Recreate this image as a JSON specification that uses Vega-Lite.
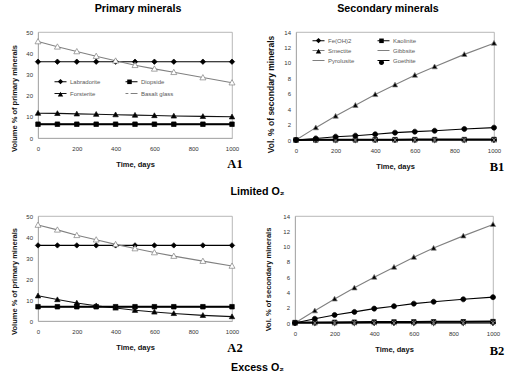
{
  "$schema": "https://vega.github.io/schema/vega-lite/v6.json",
  "background": "white",
  "padding": {"left": 10, "top": 2, "right": 0, "bottom": 0},
  "config": {
    "view": {"stroke": "#a6a6a6", "strokeWidth": 0.8},
    "axis": {
      "grid": false, "ticks": false, "tickCount": 20, "format": "d", "labelOverlap": false, "labelFlush": false,
      "domainColor": "#a6a6a6", "domainWidth": 0.8,
      "labelFont": "Liberation Sans", "labelFontSize": 6, "labelColor": "#333333",
      "titleFont": "Liberation Sans", "titleFontWeight": "bold", "titleFontSize": 7.5, "titleColor": "#111111"
    },
    "axisX": {"labelPadding": 7, "titlePadding": 9},
    "axisY": {"labelPadding": 5.5},
    "legend": {
      "title": null, "columns": 2, "direction": "horizontal",
      "labelFont": "Liberation Sans", "labelFontSize": 6, "labelColor": "#595959"
    },
    "title": {"font": "Liberation Sans", "fontWeight": "bold", "fontSize": 10.7, "color": "#000000"}
  },
  "datasets": {
    "a1": [
      {"t": 0, "Labradorite": 36, "Diopside": 6.5, "Forsterite": 11.7, "Basalt glass": 45.5},
      {"t": 100, "Labradorite": 36, "Diopside": 6.5, "Forsterite": 11.6, "Basalt glass": 43.0},
      {"t": 200, "Labradorite": 36, "Diopside": 6.5, "Forsterite": 11.4, "Basalt glass": 40.8},
      {"t": 300, "Labradorite": 36, "Diopside": 6.5, "Forsterite": 11.2, "Basalt glass": 38.6},
      {"t": 400, "Labradorite": 36, "Diopside": 6.5, "Forsterite": 11.0, "Basalt glass": 36.4},
      {"t": 500, "Labradorite": 36, "Diopside": 6.5, "Forsterite": 10.8, "Basalt glass": 34.3},
      {"t": 600, "Labradorite": 36, "Diopside": 6.5, "Forsterite": 10.6, "Basalt glass": 32.6},
      {"t": 700, "Labradorite": 36, "Diopside": 6.5, "Forsterite": 10.4, "Basalt glass": 31.0},
      {"t": 850, "Labradorite": 36, "Diopside": 6.5, "Forsterite": 10.2, "Basalt glass": 28.5},
      {"t": 1000, "Labradorite": 36, "Diopside": 6.5, "Forsterite": 10.0, "Basalt glass": 26.1}
    ],
    "a2": [
      {"t": 0, "Labradorite": 36, "Diopside": 6.8, "Forsterite": 12.0, "Basalt glass": 45.7},
      {"t": 100, "Labradorite": 36, "Diopside": 6.8, "Forsterite": 10.2, "Basalt glass": 43.4},
      {"t": 200, "Labradorite": 36, "Diopside": 6.8, "Forsterite": 8.6, "Basalt glass": 40.8},
      {"t": 300, "Labradorite": 36, "Diopside": 6.8, "Forsterite": 7.3, "Basalt glass": 38.7},
      {"t": 400, "Labradorite": 36, "Diopside": 6.8, "Forsterite": 6.2, "Basalt glass": 36.5},
      {"t": 500, "Labradorite": 36, "Diopside": 6.8, "Forsterite": 5.1, "Basalt glass": 34.5},
      {"t": 600, "Labradorite": 36, "Diopside": 6.8, "Forsterite": 4.3, "Basalt glass": 32.6},
      {"t": 700, "Labradorite": 36, "Diopside": 6.8, "Forsterite": 3.6, "Basalt glass": 30.9},
      {"t": 850, "Labradorite": 36, "Diopside": 6.8, "Forsterite": 2.7, "Basalt glass": 28.5},
      {"t": 1000, "Labradorite": 36, "Diopside": 6.8, "Forsterite": 2.1, "Basalt glass": 26.2}
    ],
    "b1": [
      {"t": 0, "Fe(OH)2": 0, "Kaolinite": 0, "Smectite": 0, "Gibbsite": 0, "Pyrolusite": 0, "Goethite": 0},
      {"t": 100, "Fe(OH)2": 0, "Kaolinite": 0.02, "Smectite": 1.6, "Gibbsite": 0, "Pyrolusite": 0, "Goethite": 0.2},
      {"t": 200, "Fe(OH)2": 0, "Kaolinite": 0.03, "Smectite": 3.1, "Gibbsite": 0, "Pyrolusite": 0, "Goethite": 0.43},
      {"t": 300, "Fe(OH)2": 0, "Kaolinite": 0.03, "Smectite": 4.5, "Gibbsite": 0, "Pyrolusite": 0, "Goethite": 0.56},
      {"t": 400, "Fe(OH)2": 0, "Kaolinite": 0.04, "Smectite": 5.9, "Gibbsite": 0, "Pyrolusite": 0, "Goethite": 0.74},
      {"t": 500, "Fe(OH)2": 0, "Kaolinite": 0.04, "Smectite": 7.15, "Gibbsite": 0, "Pyrolusite": 0, "Goethite": 0.95},
      {"t": 600, "Fe(OH)2": 0, "Kaolinite": 0.05, "Smectite": 8.4, "Gibbsite": 0, "Pyrolusite": 0, "Goethite": 1.08},
      {"t": 700, "Fe(OH)2": 0, "Kaolinite": 0.05, "Smectite": 9.5, "Gibbsite": 0, "Pyrolusite": 0, "Goethite": 1.2},
      {"t": 850, "Fe(OH)2": 0, "Kaolinite": 0.05, "Smectite": 11.1, "Gibbsite": 0, "Pyrolusite": 0, "Goethite": 1.43},
      {"t": 1000, "Fe(OH)2": 0, "Kaolinite": 0.06, "Smectite": 12.55, "Gibbsite": 0, "Pyrolusite": 0, "Goethite": 1.6}
    ],
    "b2": [
      {"t": 0, "Fe(OH)2": 0, "Kaolinite": 0.05, "Smectite": 0, "Gibbsite": 0, "Pyrolusite": 0, "Goethite": 0},
      {"t": 100, "Fe(OH)2": 0, "Kaolinite": 0.06, "Smectite": 1.6, "Gibbsite": 0, "Pyrolusite": 0.01, "Goethite": 0.55},
      {"t": 200, "Fe(OH)2": 0, "Kaolinite": 0.08, "Smectite": 3.15, "Gibbsite": 0, "Pyrolusite": 0.01, "Goethite": 1.05},
      {"t": 300, "Fe(OH)2": 0, "Kaolinite": 0.1, "Smectite": 4.6, "Gibbsite": 0, "Pyrolusite": 0.02, "Goethite": 1.45},
      {"t": 400, "Fe(OH)2": 0, "Kaolinite": 0.12, "Smectite": 6.0, "Gibbsite": 0, "Pyrolusite": 0.02, "Goethite": 1.88},
      {"t": 500, "Fe(OH)2": 0, "Kaolinite": 0.13, "Smectite": 7.3, "Gibbsite": 0, "Pyrolusite": 0.02, "Goethite": 2.2},
      {"t": 600, "Fe(OH)2": 0, "Kaolinite": 0.14, "Smectite": 8.6, "Gibbsite": 0, "Pyrolusite": 0.03, "Goethite": 2.53},
      {"t": 700, "Fe(OH)2": 0, "Kaolinite": 0.15, "Smectite": 9.8, "Gibbsite": 0, "Pyrolusite": 0.03, "Goethite": 2.78},
      {"t": 850, "Fe(OH)2": 0, "Kaolinite": 0.16, "Smectite": 11.4, "Gibbsite": 0, "Pyrolusite": 0.03, "Goethite": 3.1},
      {"t": 1000, "Fe(OH)2": 0, "Kaolinite": 0.18, "Smectite": 12.9, "Gibbsite": 0, "Pyrolusite": 0.03, "Goethite": 3.38}
    ]
  },
  "resolve": {
    "scale": {"x": "independent", "y": "independent", "shape": "independent", "fill": "independent", "stroke": "independent"},
    "legend": {"shape": "independent", "fill": "independent", "stroke": "independent"}
  },
  "spacing": 15,
  "vconcat": [
    {
      "title": {"text": "Limited O₂", "orient": "bottom", "offset": 13, "anchor": "middle"},
      "spacing": 22,
      "resolve": {
        "scale": {"x": "independent", "y": "independent", "shape": "independent", "fill": "independent", "stroke": "independent"},
        "legend": {"shape": "independent", "fill": "independent", "stroke": "independent"}
      },
      "hconcat": [
        {
          "width": 194, "height": 106,
          "title": {"text": "Primary minerals", "offset": 14, "dx": 3},
          "data": {"name": "a1"},
          "layer": [
            {
              "transform": [{"fold": ["Labradorite", "Diopside", "Forsterite", "Basalt glass"], "as": ["mineral", "v"]}],
              "mark": {"type": "line", "strokeWidth": 1.1},
              "encoding": {
                "x": {"field": "t", "type": "quantitative", "scale": {"domain": [0, 1000]}, "axis": {"values": [0, 200, 400, 600, 800, 1000], "title": "Time, days"}},
                "y": {"field": "v", "type": "quantitative", "scale": {"domain": [0, 50]}, "axis": {"values": [0, 10, 20, 30, 40, 50], "title": "Volume % of primary minerals", "titleY": 66, "titlePadding": 7}},
                "stroke": {"field": "mineral", "type": "nominal", "sort": ["Labradorite", "Diopside", "Forsterite", "Basalt glass"], "scale": {"range": ["#000000", "#000000", "#111111", "#808080"]},
                  "legend": {"orient": "none", "legendX": 16, "legendY": 43, "symbolType": "stroke", "symbolSize": 144, "symbolStrokeWidth": 1, "symbolOffset": 0, "labelOffset": 3, "columnPadding": 22, "rowPadding": 2}}
              }
            },
            {
              "transform": [{"fold": ["Diopside"], "as": ["mineral", "v"]}],
              "mark": {"type": "line", "strokeWidth": 2, "color": "#000000"},
              "encoding": {"x": {"field": "t", "type": "quantitative"}, "y": {"field": "v", "type": "quantitative"}}
            },
            {
              "transform": [{"fold": ["Labradorite", "Diopside", "Forsterite", "Basalt glass"], "as": ["mineral", "v"]}],
              "mark": {"type": "point", "filled": true, "size": 144, "opacity": 1, "strokeWidth": 0.7},
              "encoding": {
                "x": {"field": "t", "type": "quantitative"},
                "y": {"field": "v", "type": "quantitative"},
                "shape": {"field": "mineral", "type": "nominal",
                  "scale": {"domain": ["Labradorite", "Diopside", "Forsterite", "Basalt glass"], "range": ["M0,-0.45L0.45,0L0,0.45L-0.45,0Z", "M-0.38,-0.38L0.38,-0.38L0.38,0.38L-0.38,0.38Z", "M0,-0.45L0.45,0.35L-0.45,0.35Z", "M0,-0.5L0.5,0.38L-0.5,0.38Z"]},
                  "legend": {"orient": "none", "legendX": 16, "legendY": 43, "symbolSize": 144, "symbolStrokeWidth": 0.8, "symbolStrokeColor": "#444444", "symbolOffset": 0, "labelOffset": 3, "columnPadding": 22, "rowPadding": 2, "labelOpacity": 0}},
                "fill": {"field": "mineral", "type": "nominal",
                  "scale": {"domain": ["Labradorite", "Diopside", "Forsterite", "Basalt glass"], "range": ["#000000", "#000000", "#000000", "#ffffff"]},
                  "legend": {"orient": "none", "legendX": 16, "legendY": 43, "symbolSize": 144, "symbolStrokeWidth": 0.8, "symbolStrokeColor": "#444444", "symbolOffset": 0, "labelOffset": 3, "columnPadding": 22, "rowPadding": 2, "labelOpacity": 0}},
                "stroke": {"field": "mineral", "type": "nominal", "sort": ["Labradorite", "Diopside", "Forsterite", "Basalt glass"],
                  "legend": {"orient": "none", "legendX": 16, "legendY": 43, "symbolType": "stroke", "symbolSize": 144, "symbolStrokeWidth": 1, "symbolOffset": 0, "labelOffset": 3, "columnPadding": 22, "rowPadding": 2}}
              }
            },
            {
              "data": {"values": [{"panel": "A1"}]},
              "mark": {"type": "text", "font": "Liberation Serif", "fontWeight": "bold", "fontSize": 12.5, "align": "center", "baseline": "middle", "dx": 3, "dy": 26},
              "encoding": {"x": {"datum": 1000}, "y": {"datum": 0}, "text": {"field": "panel"}}
            }
          ]
        },
        {
          "width": 198, "height": 108,
          "title": {"text": "Secondary minerals", "offset": 14, "dx": -7},
          "data": {"name": "b1"},
          "layer": [
            {
              "transform": [{"fold": ["Fe(OH)2", "Kaolinite", "Smectite", "Gibbsite", "Pyrolusite", "Goethite"], "as": ["mineral", "v"]}],
              "mark": {"type": "line", "strokeWidth": 1.1},
              "encoding": {
                "x": {"field": "t", "type": "quantitative", "scale": {"domain": [0, 1000]}, "axis": {"values": [0, 200, 400, 600, 800, 1000], "title": "Time, days"}},
                "y": {"field": "v", "type": "quantitative", "scale": {"domain": [0, 14]}, "axis": {"values": [0, 2, 4, 6, 8, 10, 12, 14], "title": "Vol. % of secondary minerals", "titleY": 62, "titleFontSize": 8.5, "titlePadding": 8}},
                "stroke": {"field": "mineral", "type": "nominal", "sort": ["Fe(OH)2", "Kaolinite", "Smectite", "Gibbsite", "Pyrolusite", "Goethite"], "scale": {"range": ["#000000", "#000000", "#808080", "#808080", "#808080", "#000000"]},
                  "legend": {"orient": "none", "legendX": 16, "legendY": 2, "symbolType": "stroke", "symbolSize": 144, "symbolStrokeWidth": 1, "symbolOffset": 0, "labelOffset": 3, "columnPadding": 20, "rowPadding": 0}}
              }
            },
            {
              "transform": [{"fold": ["Kaolinite"], "as": ["mineral", "v"]}],
              "mark": {"type": "line", "strokeWidth": 2, "color": "#000000"},
              "encoding": {"x": {"field": "t", "type": "quantitative"}, "y": {"field": "v", "type": "quantitative"}}
            },
            {
              "transform": [{"fold": ["Fe(OH)2", "Kaolinite", "Smectite", "Gibbsite", "Pyrolusite", "Goethite"], "as": ["mineral", "v"]}],
              "mark": {"type": "point", "filled": true, "size": 144, "opacity": 1, "strokeWidth": 0.7},
              "encoding": {
                "x": {"field": "t", "type": "quantitative"},
                "y": {"field": "v", "type": "quantitative"},
                "shape": {"field": "mineral", "type": "nominal",
                  "scale": {"domain": ["Fe(OH)2", "Kaolinite", "Smectite", "Gibbsite", "Pyrolusite", "Goethite"], "range": ["M0,-0.45L0.45,0L0,0.45L-0.45,0Z", "M-0.38,-0.38L0.38,-0.38L0.38,0.38L-0.38,0.38Z", "M0,-0.45L0.45,0.35L-0.45,0.35Z", "M-0.38,-0.38L0.38,0.38M-0.38,0.38L0.38,-0.38", "M-0.38,-0.38L0.38,0.38M-0.38,0.38L0.38,-0.38M0,-0.45L0,0.45", "M-0.42,0A0.42,0.42,0,1,1,0.42,0A0.42,0.42,0,1,1,-0.42,0Z"]},
                  "legend": {"orient": "none", "legendX": 16, "legendY": 2, "symbolSize": 144, "symbolStrokeWidth": 0.8, "symbolStrokeColor": "#444444", "symbolOffset": 0, "labelOffset": 3, "columnPadding": 20, "rowPadding": 0, "labelOpacity": 0}},
                "fill": {"field": "mineral", "type": "nominal",
                  "scale": {"domain": ["Fe(OH)2", "Kaolinite", "Smectite", "Gibbsite", "Pyrolusite", "Goethite"], "range": ["#000000", "#000000", "#000000", "#000000", "#000000", "#000000"]},
                  "legend": {"orient": "none", "legendX": 16, "legendY": 2, "symbolSize": 144, "symbolStrokeWidth": 0.8, "symbolStrokeColor": "#444444", "symbolOffset": 0, "labelOffset": 3, "columnPadding": 20, "rowPadding": 0, "labelOpacity": 0}},
                "stroke": {"field": "mineral", "type": "nominal", "sort": ["Fe(OH)2", "Kaolinite", "Smectite", "Gibbsite", "Pyrolusite", "Goethite"],
                  "legend": {"orient": "none", "legendX": 16, "legendY": 2, "symbolType": "stroke", "symbolSize": 144, "symbolStrokeWidth": 1, "symbolOffset": 0, "labelOffset": 3, "columnPadding": 20, "rowPadding": 0}}
              }
            },
            {
              "data": {"values": [{"panel": "B1"}]},
              "mark": {"type": "text", "font": "Liberation Serif", "fontWeight": "bold", "fontSize": 12.5, "align": "center", "baseline": "middle", "dx": 3, "dy": 27},
              "encoding": {"x": {"datum": 1000}, "y": {"datum": 0}, "text": {"field": "panel"}}
            }
          ]
        }
      ]
    },
    {
      "title": {"text": "Excess O₂", "orient": "bottom", "offset": 5, "anchor": "middle"},
      "spacing": 20,
      "resolve": {
        "scale": {"x": "independent", "y": "independent", "shape": "independent", "fill": "independent", "stroke": "independent"},
        "legend": {"shape": "independent", "fill": "independent", "stroke": "independent"}
      },
      "hconcat": [
        {
          "width": 194, "height": 105,
          "data": {"name": "a2"},
          "layer": [
            {
              "transform": [{"fold": ["Labradorite", "Diopside", "Forsterite", "Basalt glass"], "as": ["mineral", "v"]}],
              "mark": {"type": "line", "strokeWidth": 1.1},
              "encoding": {
                "x": {"field": "t", "type": "quantitative", "scale": {"domain": [0, 1000]}, "axis": {"values": [0, 200, 400, 600, 800, 1000], "title": "Time, days"}},
                "y": {"field": "v", "type": "quantitative", "scale": {"domain": [0, 50]}, "axis": {"values": [0, 10, 20, 30, 40, 50], "title": "Volume % of primary minerals", "titleY": 65, "titlePadding": 7}},
                "stroke": {"field": "mineral", "type": "nominal", "scale": {"domain": ["Labradorite", "Diopside", "Forsterite", "Basalt glass"], "range": ["#000000", "#000000", "#111111", "#808080"]}, "legend": null}
              }
            },
            {
              "transform": [{"fold": ["Diopside"], "as": ["mineral", "v"]}],
              "mark": {"type": "line", "strokeWidth": 2, "color": "#000000"},
              "encoding": {"x": {"field": "t", "type": "quantitative"}, "y": {"field": "v", "type": "quantitative"}}
            },
            {
              "transform": [{"fold": ["Labradorite", "Diopside", "Forsterite", "Basalt glass"], "as": ["mineral", "v"]}],
              "mark": {"type": "point", "filled": true, "size": 144, "opacity": 1, "strokeWidth": 0.7},
              "encoding": {
                "x": {"field": "t", "type": "quantitative"},
                "y": {"field": "v", "type": "quantitative"},
                "shape": {"field": "mineral", "type": "nominal", "scale": {"domain": ["Labradorite", "Diopside", "Forsterite", "Basalt glass"], "range": ["M0,-0.45L0.45,0L0,0.45L-0.45,0Z", "M-0.38,-0.38L0.38,-0.38L0.38,0.38L-0.38,0.38Z", "M0,-0.45L0.45,0.35L-0.45,0.35Z", "M0,-0.5L0.5,0.38L-0.5,0.38Z"]}, "legend": null},
                "fill": {"field": "mineral", "type": "nominal", "scale": {"domain": ["Labradorite", "Diopside", "Forsterite", "Basalt glass"], "range": ["#000000", "#000000", "#000000", "#ffffff"]}, "legend": null},
                "stroke": {"field": "mineral", "type": "nominal", "legend": null}
              }
            },
            {
              "data": {"values": [{"panel": "A2"}]},
              "mark": {"type": "text", "font": "Liberation Serif", "fontWeight": "bold", "fontSize": 12.5, "align": "center", "baseline": "middle", "dx": 3, "dy": 27},
              "encoding": {"x": {"datum": 1000}, "y": {"datum": 0}, "text": {"field": "panel"}}
            }
          ]
        },
        {
          "width": 198, "height": 107,
          "data": {"name": "b2"},
          "layer": [
            {
              "transform": [{"fold": ["Fe(OH)2", "Kaolinite", "Smectite", "Gibbsite", "Pyrolusite", "Goethite"], "as": ["mineral", "v"]}],
              "mark": {"type": "line", "strokeWidth": 1.1},
              "encoding": {
                "x": {"field": "t", "type": "quantitative", "scale": {"domain": [0, 1000]}, "axis": {"values": [0, 200, 400, 600, 800, 1000], "title": "Time, days"}},
                "y": {"field": "v", "type": "quantitative", "scale": {"domain": [0, 14]}, "axis": {"values": [0, 2, 4, 6, 8, 10, 12, 14], "title": "Vol. % of secondary minerals", "titleY": 63, "titlePadding": 10}},
                "stroke": {"field": "mineral", "type": "nominal", "scale": {"domain": ["Fe(OH)2", "Kaolinite", "Smectite", "Gibbsite", "Pyrolusite", "Goethite"], "range": ["#000000", "#000000", "#808080", "#808080", "#808080", "#000000"]}, "legend": null}
              }
            },
            {
              "transform": [{"fold": ["Kaolinite"], "as": ["mineral", "v"]}],
              "mark": {"type": "line", "strokeWidth": 2, "color": "#000000"},
              "encoding": {"x": {"field": "t", "type": "quantitative"}, "y": {"field": "v", "type": "quantitative"}}
            },
            {
              "transform": [{"fold": ["Fe(OH)2", "Kaolinite", "Smectite", "Gibbsite", "Pyrolusite", "Goethite"], "as": ["mineral", "v"]}],
              "mark": {"type": "point", "filled": true, "size": 144, "opacity": 1, "strokeWidth": 0.7},
              "encoding": {
                "x": {"field": "t", "type": "quantitative"},
                "y": {"field": "v", "type": "quantitative"},
                "shape": {"field": "mineral", "type": "nominal", "scale": {"domain": ["Fe(OH)2", "Kaolinite", "Smectite", "Gibbsite", "Pyrolusite", "Goethite"], "range": ["M0,-0.45L0.45,0L0,0.45L-0.45,0Z", "M-0.38,-0.38L0.38,-0.38L0.38,0.38L-0.38,0.38Z", "M0,-0.45L0.45,0.35L-0.45,0.35Z", "M-0.38,-0.38L0.38,0.38M-0.38,0.38L0.38,-0.38", "M-0.38,-0.38L0.38,0.38M-0.38,0.38L0.38,-0.38M0,-0.45L0,0.45", "M-0.42,0A0.42,0.42,0,1,1,0.42,0A0.42,0.42,0,1,1,-0.42,0Z"]}, "legend": null},
                "fill": {"field": "mineral", "type": "nominal", "scale": {"domain": ["Fe(OH)2", "Kaolinite", "Smectite", "Gibbsite", "Pyrolusite", "Goethite"], "range": ["#000000", "#000000", "#000000", "#000000", "#000000", "#000000"]}, "legend": null},
                "stroke": {"field": "mineral", "type": "nominal", "legend": null}
              }
            },
            {
              "data": {"values": [{"panel": "B2"}]},
              "mark": {"type": "text", "font": "Liberation Serif", "fontWeight": "bold", "fontSize": 12.5, "align": "center", "baseline": "middle", "dx": 4, "dy": 28},
              "encoding": {"x": {"datum": 1000}, "y": {"datum": 0}, "text": {"field": "panel"}}
            }
          ]
        }
      ]
    }
  ]
}
